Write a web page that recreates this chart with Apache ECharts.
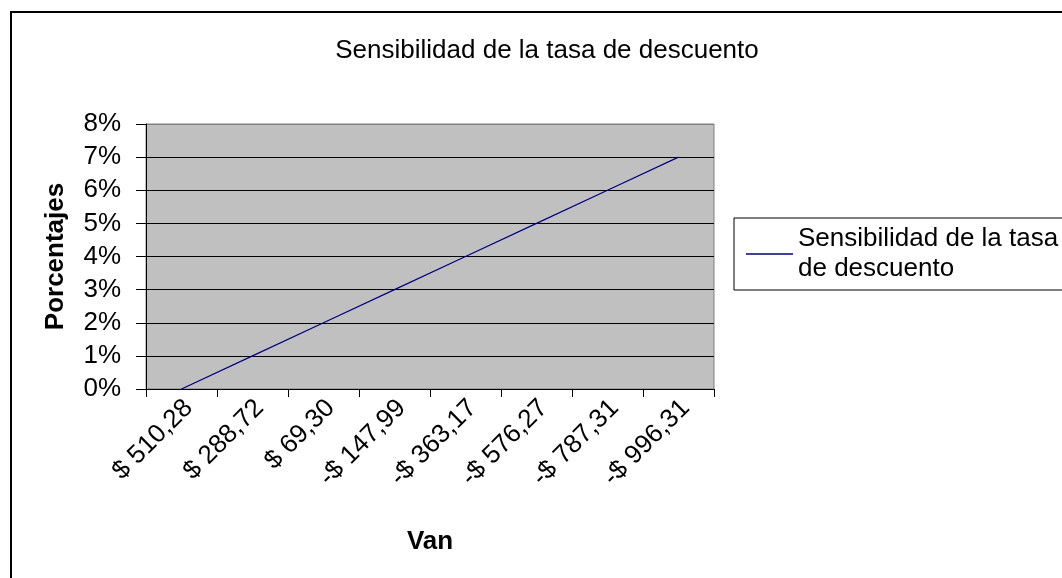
<!DOCTYPE html>
<html>
<head>
<meta charset="utf-8">
<script src="https://cdn.jsdelivr.net/npm/echarts@6/dist/echarts.min.js"></script>
<style>
  html, body { margin: 0; padding: 0; background: #fff; }
  #chart { width: 1062px; height: 578px; }
</style>
</head>
<body>
<div id="chart"></div>
<script>
// datos
const categorias = ['$ 510,28', '$ 288,72', '$ 69,30', '-$ 147,99', '-$ 363,17', '-$ 576,27', '-$ 787,31', '-$ 996,31'];
const porcentajes = [0, 1, 2, 3, 4, 5, 6, 7];
const nombreSerie = 'Sensibilidad de la tasa de descuento';

const chart = echarts.init(document.getElementById('chart'));
const fuente = '"Liberation Sans", Arial, sans-serif';

const option = {
  backgroundColor: '#fff',
  textStyle: { fontFamily: fuente },
  animation: false,
  graphic: [
    {
      type: 'rect',
      shape: { x: 11, y: 12, width: 1100, height: 700 },
      style: { fill: 'none', stroke: '#000', lineWidth: 2 },
      silent: true
    }
  ],
  title: {
    text: 'Sensibilidad de la tasa de descuento',
    left: 542,
    textAlign: 'center',
    top: 33,
    textStyle: { fontFamily: fuente, fontSize: 26, fontWeight: 'normal', color: '#000' }
  },
  legend: {
    left: 734,
    top: 218,
    orient: 'vertical',
    padding: [6, 12, 6, 12],
    borderColor: '#000',
    borderWidth: 1,
    icon: 'rect',
    itemWidth: 47,
    itemHeight: 1.5,
    itemStyle: { color: '#000080' },
    formatter: () => 'Sensibilidad de la tasa\nde descuento',
    textStyle: { fontFamily: fuente, fontSize: 26, color: '#000', lineHeight: 30 },
    data: [nombreSerie]
  },
  grid: {
    left: 146,
    right: 348,
    top: 124,
    bottom: 189,
    show: true,
    backgroundColor: '#c0c0c0',
    borderColor: '#808080',
    borderWidth: 1
  },
  xAxis: {
    type: 'category',
    data: categorias,
    boundaryGap: true,
    name: 'Van',
    nameLocation: 'middle',
    nameGap: 140,
    nameTextStyle: { fontFamily: fuente, fontSize: 26, fontWeight: 'bold', color: '#000' },
    axisLine: { lineStyle: { color: '#000', width: 1 } },
    axisTick: { show: true, length: 8, lineStyle: { color: '#000' } },
    axisLabel: {
      rotate: 45,
      margin: 22,
      padding: [0, -10, 0, 0],
      fontSize: 26,
      color: '#000',
      fontFamily: fuente,
      interval: 0
    }
  },
  yAxis: {
    type: 'value',
    min: 0,
    max: 8,
    interval: 1,
    name: 'Porcentajes',
    nameLocation: 'middle',
    nameGap: 77,
    nameRotate: 90,
    nameTextStyle: { fontFamily: fuente, fontSize: 26, fontWeight: 'bold', color: '#000' },
    axisLine: { show: true, lineStyle: { color: '#000', width: 1 } },
    axisTick: { show: true, length: 10, lineStyle: { color: '#000' } },
    axisLabel: {
      formatter: '{value}%',
      margin: 25,
      fontSize: 26,
      color: '#000',
      fontFamily: fuente
    },
    splitLine: {
      show: true,
      lineStyle: {
        color: ['#000', '#000', '#000', '#000', '#000', '#000', '#000', '#000', '#808080'],
        width: 1
      }
    }
  },
  series: [
    {
      name: nombreSerie,
      type: 'line',
      data: porcentajes,
      symbol: 'none',
      lineStyle: { color: '#000080', width: 1.2 },
      itemStyle: { color: '#000080' }
    }
  ]
};

chart.setOption(option);
</script>
</body>
</html>
